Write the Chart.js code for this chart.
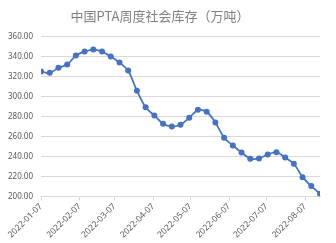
<!DOCTYPE html>
<html>
<head>
<meta charset="utf-8">
<script src="https://cdn.jsdelivr.net/npm/chart.js@4.4.0/dist/chart.umd.min.js"></script>
<style>
  html, body { margin: 0; padding: 0; background: #fff; }
  #wrap { width: 336px; height: 243px; }
</style>
</head>
<body>
<div id="wrap"><canvas id="chart" width="336" height="243"></canvas></div>
<script>
// 周度日期
const weeks = [
  "2022-01-07", "2022-01-14", "2022-01-21", "2022-01-28",
  "2022-02-04", "2022-02-11", "2022-02-18", "2022-02-25",
  "2022-03-04", "2022-03-11", "2022-03-18", "2022-03-25",
  "2022-04-01", "2022-04-08", "2022-04-15", "2022-04-22", "2022-04-29",
  "2022-05-06", "2022-05-13", "2022-05-20", "2022-05-27",
  "2022-06-03", "2022-06-10", "2022-06-17", "2022-06-24",
  "2022-07-01", "2022-07-08", "2022-07-15", "2022-07-22", "2022-07-29",
  "2022-08-05", "2022-08-12", "2022-08-19"
];

// 社会库存（万吨）
const stock = [
  325.0, 323.7, 328.7, 332.0,
  341.0, 345.0, 347.0, 345.0,
  340.0, 334.0, 326.0, 305.7,
  289.3, 281.0, 272.7, 270.0, 271.7,
  278.7, 286.7, 284.7, 274.0,
  258.7, 251.0, 244.0, 237.7,
  238.0, 242.0, 244.3, 239.0, 232.7,
  219.3, 210.3, 202.7
];

// x 轴刻度
const tickDates = [
  "2022-01-07", "2022-02-07", "2022-03-07", "2022-04-07",
  "2022-05-07", "2022-06-07", "2022-07-07", "2022-08-07"
];

const yMin = 200;
const yMax = 360;
const yStep = 20;

const dayOf = (s) => (Date.parse(s) - Date.parse(weeks[0])) / 86400000;

const points = weeks.map((d, i) => ({ x: dayOf(d), y: stock[i] }));

const ctx = document.getElementById("chart").getContext("2d");
new Chart(ctx, {
  type: "line",
  data: {
    datasets: [
      {
        label: "社会库存",
        data: points,
        borderColor: "#4472C4",
        backgroundColor: "#4472C4",
        borderWidth: 1.75,
        pointRadius: 3,
        pointBorderWidth: 0,
        tension: 0.25,
      },
    ],
  },
  options: {
    responsive: false,
    animation: false,
    layout: { padding: { left: 0, right: 16, top: 0, bottom: 2 } },
    plugins: {
      legend: { display: false },
      tooltip: { enabled: false },
      title: {
        display: true,
        text: "中国PTA周度社会库存（万吨）",
        color: "#808080",
        font: { family: "'Noto Sans CJK SC'", size: 13, weight: "normal" },
        padding: { top: 8, bottom: 13 },
      },
    },
    scales: {
      x: {
        type: "linear",
        min: dayOf(weeks[0]),
        max: dayOf(weeks[weeks.length - 1]),
        afterBuildTicks: (axis) => {
          axis.ticks = tickDates.map((d) => ({ value: dayOf(d) }));
        },
        ticks: {
          minRotation: 45,
          maxRotation: 45,
          padding: 1,
          color: "#595959",
          font: { family: "'Noto Sans'", size: 8.5 },
          callback: (v) => {
            const hit = tickDates.find((d) => dayOf(d) === v);
            return hit || "";
          },
        },
        grid: { drawOnChartArea: false, color: "#d9d9d9", tickLength: 4 },
        border: { color: "#d9d9d9" },
      },
      y: {
        min: yMin,
        max: yMax,
        ticks: {
          stepSize: yStep,
          color: "#595959",
          font: { family: "'Noto Sans'", size: 8 },
          padding: 8,
          callback: (v) => v.toFixed(2),
        },
        grid: { color: "#d9d9d9", drawTicks: false },
        border: { display: false },
      },
    },
  },
});
</script>
</body>
</html>
